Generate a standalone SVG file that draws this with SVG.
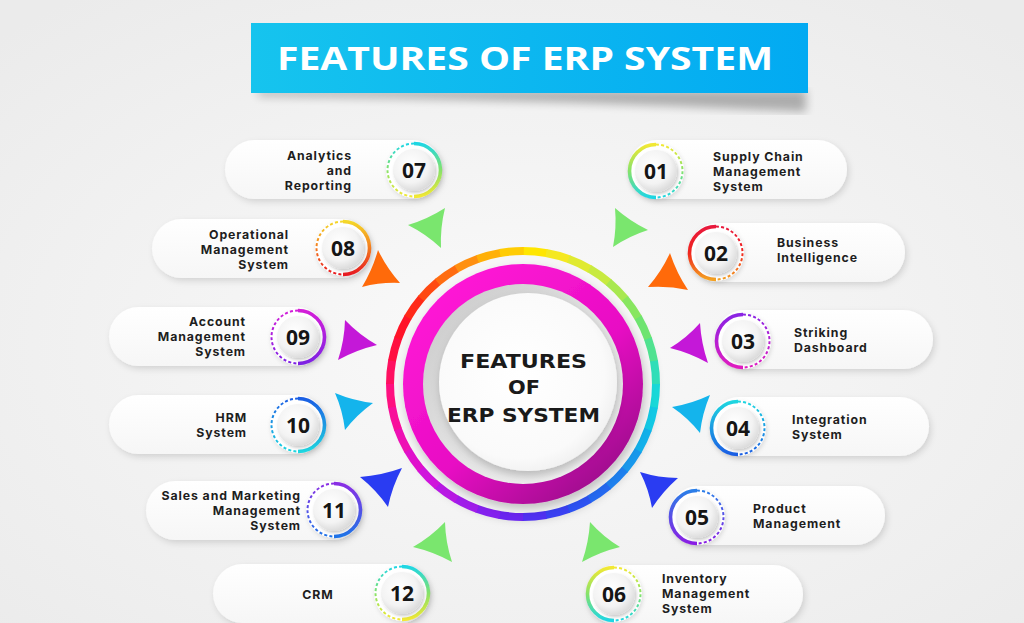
<svg xmlns="http://www.w3.org/2000/svg" width="1024" height="623" viewBox="0 0 1024 623">
<defs>
<style>
.lbl{font-family:Inter,"Open Sans","Liberation Sans",sans-serif;font-weight:700;font-size:12.3px;letter-spacing:0.9px;fill:#1e1e1e}
.end{text-anchor:end}
.num{font-family:"Open Sans","Liberation Sans",sans-serif;font-weight:700;font-size:21px;fill:#151515;text-anchor:middle}
.pill{fill:url(#pillG);filter:url(#sh)}
.badge{fill:#ffffff;filter:url(#sh2)}
.disc{fill:url(#discG);filter:url(#sh3)}
.solid{fill:none;stroke-width:3.6}
.dash{fill:none;stroke-width:2;stroke-dasharray:3 2.2}
.arrow{stroke:none}
.rb{fill:none;stroke-width:8;stroke-dasharray:24 900}
.head{font-family:"DejaVu Sans","Liberation Sans",sans-serif;font-weight:700}
</style>
<radialGradient id="bg" cx="0.5" cy="0.55" r="0.7">
<stop offset="0" stop-color="#fafafa"/><stop offset="1" stop-color="#ebebeb"/>
</radialGradient>
<linearGradient id="titleG" x1="0" y1="0" x2="1" y2="0">
<stop offset="0" stop-color="#16c4ee"/><stop offset="1" stop-color="#02aaf2"/>
</linearGradient>
<linearGradient id="pillG" x1="0" y1="0" x2="0" y2="1">
<stop offset="0" stop-color="#ffffff"/><stop offset="1" stop-color="#f6f6f6"/>
</linearGradient>
<radialGradient id="discG" cx="0.42" cy="0.38" r="0.65">
<stop offset="0" stop-color="#ffffff"/><stop offset="0.65" stop-color="#f3f3f3"/><stop offset="1" stop-color="#d9d9d9"/>
</radialGradient>
<linearGradient id="magG" x1="0.15" y1="0.1" x2="0.85" y2="0.95">
<stop offset="0" stop-color="#ff1ad6"/><stop offset="0.55" stop-color="#e80cc4"/><stop offset="1" stop-color="#980a88"/>
</linearGradient>
<linearGradient id="bevelG" x1="0.1" y1="0.1" x2="0.9" y2="0.9">
<stop offset="0" stop-color="#cdcdcd"/><stop offset="1" stop-color="#f6f6f6"/>
</linearGradient>
<radialGradient id="whiteG" cx="0.45" cy="0.45" r="0.6">
<stop offset="0" stop-color="#ffffff"/><stop offset="0.8" stop-color="#fafafa"/><stop offset="1" stop-color="#eeeeee"/>
</radialGradient>
<linearGradient id="c01" x1="0" y1="0" x2="0" y2="1"><stop offset="0" stop-color="#f2e834"/><stop offset="0.5" stop-color="#86e26a"/><stop offset="1" stop-color="#1ed6e4"/></linearGradient>
<linearGradient id="c02" x1="0" y1="0" x2="0" y2="1"><stop offset="0" stop-color="#e8183c"/><stop offset="0.5" stop-color="#f0261e"/><stop offset="1" stop-color="#f4a020"/></linearGradient>
<linearGradient id="c03" x1="0" y1="0" x2="0" y2="1"><stop offset="0" stop-color="#8a24e4"/><stop offset="1" stop-color="#e01cc0"/></linearGradient>
<linearGradient id="c04" x1="0" y1="0" x2="0" y2="1"><stop offset="0" stop-color="#1ed6e0"/><stop offset="1" stop-color="#1a5ee4"/></linearGradient>
<linearGradient id="c05" x1="0" y1="0" x2="0" y2="1"><stop offset="0" stop-color="#2a7ee8"/><stop offset="1" stop-color="#8a1ee4"/></linearGradient>
<linearGradient id="c06" x1="0" y1="0" x2="0" y2="1"><stop offset="0" stop-color="#f2e834"/><stop offset="0.5" stop-color="#86e26a"/><stop offset="1" stop-color="#1ed6e4"/></linearGradient>
<linearGradient id="c07" x1="0" y1="0" x2="0" y2="1"><stop offset="0" stop-color="#1ed6e4"/><stop offset="0.5" stop-color="#86e26a"/><stop offset="1" stop-color="#f2e834"/></linearGradient>
<linearGradient id="c08" x1="0" y1="0" x2="0" y2="1"><stop offset="0" stop-color="#f4d82a"/><stop offset="0.5" stop-color="#f47a1e"/><stop offset="1" stop-color="#e81a22"/></linearGradient>
<linearGradient id="c09" x1="0" y1="0" x2="0" y2="1"><stop offset="0" stop-color="#d41ed8"/><stop offset="1" stop-color="#7e22e4"/></linearGradient>
<linearGradient id="c10" x1="0" y1="0" x2="0" y2="1"><stop offset="0" stop-color="#1a5ee4"/><stop offset="1" stop-color="#1ed6e0"/></linearGradient>
<linearGradient id="c11" x1="0" y1="0" x2="0" y2="1"><stop offset="0" stop-color="#8a2ee4"/><stop offset="1" stop-color="#1e74e8"/></linearGradient>
<linearGradient id="c12" x1="0" y1="0" x2="0" y2="1"><stop offset="0" stop-color="#1ed6e4"/><stop offset="0.5" stop-color="#86e26a"/><stop offset="1" stop-color="#f2e834"/></linearGradient>
<filter id="sh" x="-10%" y="-30%" width="125%" height="170%"><feDropShadow dx="2" dy="3" stdDeviation="3" flood-color="#000" flood-opacity="0.13"/></filter>
<filter id="sh2" x="-30%" y="-30%" width="170%" height="170%"><feDropShadow dx="1" dy="2" stdDeviation="2" flood-color="#000" flood-opacity="0.12"/></filter>
<filter id="sh3" x="-30%" y="-30%" width="170%" height="170%"><feDropShadow dx="1.5" dy="2" stdDeviation="1.8" flood-color="#000" flood-opacity="0.2"/></filter>
<filter id="shC" x="-20%" y="-20%" width="140%" height="140%"><feDropShadow dx="2" dy="5" stdDeviation="5" flood-color="#000" flood-opacity="0.22"/></filter>
<filter id="blur6"><feGaussianBlur stdDeviation="5"/></filter>
<path id="arcL" d="M0,-26.5 A26.5,26.5 0 0 0 0,26.5"/>
<path id="arcR" d="M0,-26.5 A26.5,26.5 0 0 1 0,26.5"/>
</defs>

<rect width="1024" height="623" fill="url(#bg)"/>

<g id="title">
<path d="M258,90 L806,90 L806,112 Q560,100 258,96 Z" fill="#000" opacity="0.28" filter="url(#blur6)"/>
<rect x="251" y="23" width="557" height="70" fill="url(#titleG)"/>
<text x="277" y="69.5" textLength="496" lengthAdjust="spacingAndGlyphs" style="font-family:'Open Sans','Liberation Sans',sans-serif;font-weight:700;font-size:33px;fill:#ffffff">FEATURES OF ERP SYSTEM</text>
</g>

<g id="center">
<circle cx="523" cy="384" r="130" fill="#f6f6f6" filter="url(#shC)"/>
<g id="rainbow">
<circle class="rb" cx="523" cy="384" r="133" stroke="#ffe600" transform="rotate(-90 523 384)"/>
<circle class="rb" cx="523" cy="384" r="133" stroke="#f5e820" transform="rotate(-80 523 384)"/>
<circle class="rb" cx="523" cy="384" r="133" stroke="#e0ea30" transform="rotate(-70 523 384)"/>
<circle class="rb" cx="523" cy="384" r="133" stroke="#c8ea40" transform="rotate(-60 523 384)"/>
<circle class="rb" cx="523" cy="384" r="133" stroke="#a8e850" transform="rotate(-50 523 384)"/>
<circle class="rb" cx="523" cy="384" r="133" stroke="#88e660" transform="rotate(-40 523 384)"/>
<circle class="rb" cx="523" cy="384" r="133" stroke="#6ee470" transform="rotate(-30 523 384)"/>
<circle class="rb" cx="523" cy="384" r="133" stroke="#50e290" transform="rotate(-20 523 384)"/>
<circle class="rb" cx="523" cy="384" r="133" stroke="#30deb8" transform="rotate(-10 523 384)"/>
<circle class="rb" cx="523" cy="384" r="133" stroke="#18d8d8" transform="rotate(0 523 384)"/>
<circle class="rb" cx="523" cy="384" r="133" stroke="#12c8e4" transform="rotate(10 523 384)"/>
<circle class="rb" cx="523" cy="384" r="133" stroke="#12b0ea" transform="rotate(20 523 384)"/>
<circle class="rb" cx="523" cy="384" r="133" stroke="#1898ec" transform="rotate(30 523 384)"/>
<circle class="rb" cx="523" cy="384" r="133" stroke="#1e80ee" transform="rotate(40 523 384)"/>
<circle class="rb" cx="523" cy="384" r="133" stroke="#2468f0" transform="rotate(50 523 384)"/>
<circle class="rb" cx="523" cy="384" r="133" stroke="#2c52f2" transform="rotate(60 523 384)"/>
<circle class="rb" cx="523" cy="384" r="133" stroke="#3a40f2" transform="rotate(70 523 384)"/>
<circle class="rb" cx="523" cy="384" r="133" stroke="#5030f2" transform="rotate(80 523 384)"/>
<circle class="rb" cx="523" cy="384" r="133" stroke="#6a24f0" transform="rotate(90 523 384)"/>
<circle class="rb" cx="523" cy="384" r="133" stroke="#8420ee" transform="rotate(100 523 384)"/>
<circle class="rb" cx="523" cy="384" r="133" stroke="#a01cea" transform="rotate(110 523 384)"/>
<circle class="rb" cx="523" cy="384" r="133" stroke="#b818e4" transform="rotate(120 523 384)"/>
<circle class="rb" cx="523" cy="384" r="133" stroke="#d014dc" transform="rotate(130 523 384)"/>
<circle class="rb" cx="523" cy="384" r="133" stroke="#e010cc" transform="rotate(140 523 384)"/>
<circle class="rb" cx="523" cy="384" r="133" stroke="#ee10b4" transform="rotate(150 523 384)"/>
<circle class="rb" cx="523" cy="384" r="133" stroke="#f8109a" transform="rotate(160 523 384)"/>
<circle class="rb" cx="523" cy="384" r="133" stroke="#ff1080" transform="rotate(170 523 384)"/>
<circle class="rb" cx="523" cy="384" r="133" stroke="#ff1060" transform="rotate(180 523 384)"/>
<circle class="rb" cx="523" cy="384" r="133" stroke="#ff1040" transform="rotate(190 523 384)"/>
<circle class="rb" cx="523" cy="384" r="133" stroke="#ff1428" transform="rotate(200 523 384)"/>
<circle class="rb" cx="523" cy="384" r="133" stroke="#ff2a18" transform="rotate(210 523 384)"/>
<circle class="rb" cx="523" cy="384" r="133" stroke="#ff4a12" transform="rotate(220 523 384)"/>
<circle class="rb" cx="523" cy="384" r="133" stroke="#ff6c10" transform="rotate(230 523 384)"/>
<circle class="rb" cx="523" cy="384" r="133" stroke="#ff9010" transform="rotate(240 523 384)"/>
<circle class="rb" cx="523" cy="384" r="133" stroke="#ffb008" transform="rotate(250 523 384)"/>
<circle class="rb" cx="523" cy="384" r="133" stroke="#ffcc04" transform="rotate(260 523 384)"/>
</g>
<circle cx="523" cy="384" r="120" fill="url(#magG)" filter="url(#shC)"/>
<circle cx="523" cy="384" r="100" fill="url(#bevelG)"/>
<circle cx="528" cy="382" r="89" fill="url(#whiteG)" filter="url(#shC)"/>
<g class="head" style="font-size:20px;fill:#1a1a1a">
<text x="460" y="368" textLength="127" lengthAdjust="spacingAndGlyphs">FEATURES</text>
<text x="508" y="394" textLength="32" lengthAdjust="spacingAndGlyphs">OF</text>
<text x="447" y="421.5" textLength="153" lengthAdjust="spacingAndGlyphs">ERP SYSTEM</text>
</g>
</g>

<g id="connectors">
<path class="arrow" fill="#7ae66e" d="M408,225 Q427.7,219.1 445,208 Q440.1,227.75 441,248 Q426.2,234.1 408,225 Z"/>
<path class="arrow" fill="#ff6a0a" d="M378,250 Q386.75,268.2 400,283 Q380.75,282.1 362,287 Q372.5,269.7 378,250 Z"/>
<path class="arrow" fill="#c418d8" d="M345,320 Q359.1,334.8 377,345 Q356.5,349.8 338,360 Q344.5,340.4 345,320 Z"/>
<path class="arrow" fill="#14b4ec" d="M335,393 Q353.25,400.7 373,403 Q357,414.5 345,430 Q342.75,410.8 335,393 Z"/>
<path class="arrow" fill="#2a3cf2" d="M360,477 Q381.6,475.4 402,468 Q392.1,486.6 388,507 Q376.3,490 360,477 Z"/>
<path class="arrow" fill="#7ae66e" d="M413,547 Q430.9,536.8 445,522 Q445.5,542.4 452,562 Q433.6,551.8 413,547 Z"/>
<path class="arrow" fill="#7ae66e" d="M615,208 Q630,221.3 648,230 Q629.2,236 613,247 Q616.8,227.7 615,208 Z"/>
<path class="arrow" fill="#ff6a0a" d="M670,253 Q661.4,271.7 648,287 Q668.2,285.5 688,290 Q676.4,272.8 670,253 Z"/>
<path class="arrow" fill="#c418d8" d="M700,323 Q686.9,337.8 670,348 Q689.9,352.8 708,363 Q701.2,343.4 700,323 Z"/>
<path class="arrow" fill="#14b4ec" d="M710,395 Q691.75,403.7 672,407 Q688,417.9 700,433 Q702.25,413.4 710,395 Z"/>
<path class="arrow" fill="#2a3cf2" d="M640,472 Q658.4,477.75 678,478 Q662.9,491.25 652,508 Q648.7,489 640,472 Z"/>
<path class="arrow" fill="#7ae66e" d="M590,522 Q603.1,536.8 620,547 Q600.1,551.8 582,562 Q588.8,542.4 590,522 Z"/>
</g>

<g id="node-01">
<rect class="pill" x="628" y="140" width="219" height="59" rx="29.5"/>
<g transform="translate(656,171)"><circle class="badge" r="28"/><use href="#arcL" class="solid" stroke="url(#c01)"/><use href="#arcR" class="dash" stroke="url(#c01)"/><circle class="disc" r="21"/><text class="num" y="7.5">01</text></g>
<text class="lbl" x="713" y="161"><tspan x="713">Supply Chain</tspan><tspan x="713" dy="15">Management</tspan><tspan x="713" dy="15">System</tspan></text>
</g>
<g id="node-02">
<rect class="pill" x="688" y="223" width="217" height="59" rx="29.5"/>
<g transform="translate(716,253)"><circle class="badge" r="28"/><use href="#arcL" class="solid" stroke="url(#c02)"/><use href="#arcR" class="dash" stroke="url(#c02)"/><circle class="disc" r="21"/><text class="num" y="7.5">02</text></g>
<text class="lbl" x="777" y="246.5"><tspan x="777">Business</tspan><tspan x="777" dy="15">Intelligence</tspan></text>
</g>
<g id="node-03">
<rect class="pill" x="715" y="310" width="218" height="59" rx="29.5"/>
<g transform="translate(743,341)"><circle class="badge" r="28"/><use href="#arcL" class="solid" stroke="url(#c03)"/><use href="#arcR" class="dash" stroke="url(#c03)"/><circle class="disc" r="21"/><text class="num" y="7.5">03</text></g>
<text class="lbl" x="794" y="337"><tspan x="794">Striking</tspan><tspan x="794" dy="15">Dashboard</tspan></text>
</g>
<g id="node-04">
<rect class="pill" x="710" y="397" width="219" height="59" rx="29.5"/>
<g transform="translate(738,428)"><circle class="badge" r="28"/><use href="#arcL" class="solid" stroke="url(#c04)"/><use href="#arcR" class="dash" stroke="url(#c04)"/><circle class="disc" r="21"/><text class="num" y="7.5">04</text></g>
<text class="lbl" x="792" y="424"><tspan x="792">Integration</tspan><tspan x="792" dy="15">System</tspan></text>
</g>
<g id="node-05">
<rect class="pill" x="669" y="486" width="216" height="59" rx="29.5"/>
<g transform="translate(697,517)"><circle class="badge" r="28"/><use href="#arcL" class="solid" stroke="url(#c05)"/><use href="#arcR" class="dash" stroke="url(#c05)"/><circle class="disc" r="21"/><text class="num" y="7.5">05</text></g>
<text class="lbl" x="753" y="513"><tspan x="753">Product</tspan><tspan x="753" dy="15">Management</tspan></text>
</g>
<g id="node-06">
<rect class="pill" x="586" y="565" width="217" height="59" rx="29.5"/>
<g transform="translate(614,594)"><circle class="badge" r="28"/><use href="#arcL" class="solid" stroke="url(#c06)"/><use href="#arcR" class="dash" stroke="url(#c06)"/><circle class="disc" r="21"/><text class="num" y="7.5">06</text></g>
<text class="lbl" x="662" y="583"><tspan x="662">Inventory</tspan><tspan x="662" dy="15">Management</tspan><tspan x="662" dy="15">System</tspan></text>
</g>
<g id="node-07">
<rect class="pill" x="225" y="140" width="217" height="59" rx="29.5"/>
<g transform="translate(414,170)"><circle class="badge" r="28"/><use href="#arcR" class="solid" stroke="url(#c07)"/><use href="#arcL" class="dash" stroke="url(#c07)"/><circle class="disc" r="21"/><text class="num" y="7.5">07</text></g>
<text class="lbl end" x="352" y="159.5"><tspan x="352">Analytics</tspan><tspan x="352" dy="15">and</tspan><tspan x="352" dy="15">Reporting</tspan></text>
</g>
<g id="node-08">
<rect class="pill" x="152" y="219" width="219" height="59" rx="29.5"/>
<g transform="translate(343,248)"><circle class="badge" r="28"/><use href="#arcR" class="solid" stroke="url(#c08)"/><use href="#arcL" class="dash" stroke="url(#c08)"/><circle class="disc" r="21"/><text class="num" y="7.5">08</text></g>
<text class="lbl end" x="289" y="239"><tspan x="289">Operational</tspan><tspan x="289" dy="15">Management</tspan><tspan x="289" dy="15">System</tspan></text>
</g>
<g id="node-09">
<rect class="pill" x="109" y="307" width="217" height="59" rx="29.5"/>
<g transform="translate(298,337)"><circle class="badge" r="28"/><use href="#arcR" class="solid" stroke="url(#c09)"/><use href="#arcL" class="dash" stroke="url(#c09)"/><circle class="disc" r="21"/><text class="num" y="7.5">09</text></g>
<text class="lbl end" x="246" y="326"><tspan x="246">Account</tspan><tspan x="246" dy="15">Management</tspan><tspan x="246" dy="15">System</tspan></text>
</g>
<g id="node-10">
<rect class="pill" x="109" y="395" width="217" height="59" rx="29.5"/>
<g transform="translate(298,425)"><circle class="badge" r="28"/><use href="#arcR" class="solid" stroke="url(#c10)"/><use href="#arcL" class="dash" stroke="url(#c10)"/><circle class="disc" r="21"/><text class="num" y="7.5">10</text></g>
<text class="lbl end" x="247" y="422"><tspan x="247">HRM</tspan><tspan x="247" dy="15">System</tspan></text>
</g>
<g id="node-11">
<rect class="pill" x="146" y="481" width="216" height="59" rx="29.5"/>
<g transform="translate(334,510)"><circle class="badge" r="28"/><use href="#arcR" class="solid" stroke="url(#c11)"/><use href="#arcL" class="dash" stroke="url(#c11)"/><circle class="disc" r="21"/><text class="num" y="7.5">11</text></g>
<text class="lbl end" x="301" y="500"><tspan x="301">Sales and Marketing</tspan><tspan x="301" dy="15">Management</tspan><tspan x="301" dy="15">System</tspan></text>
</g>
<g id="node-12">
<rect class="pill" x="213" y="564" width="217" height="59" rx="29.5"/>
<g transform="translate(402,593)"><circle class="badge" r="28"/><use href="#arcR" class="solid" stroke="url(#c12)"/><use href="#arcL" class="dash" stroke="url(#c12)"/><circle class="disc" r="21"/><text class="num" y="7.5">12</text></g>
<text class="lbl" x="318" y="599" text-anchor="middle">CRM</text>
</g>
</svg>
